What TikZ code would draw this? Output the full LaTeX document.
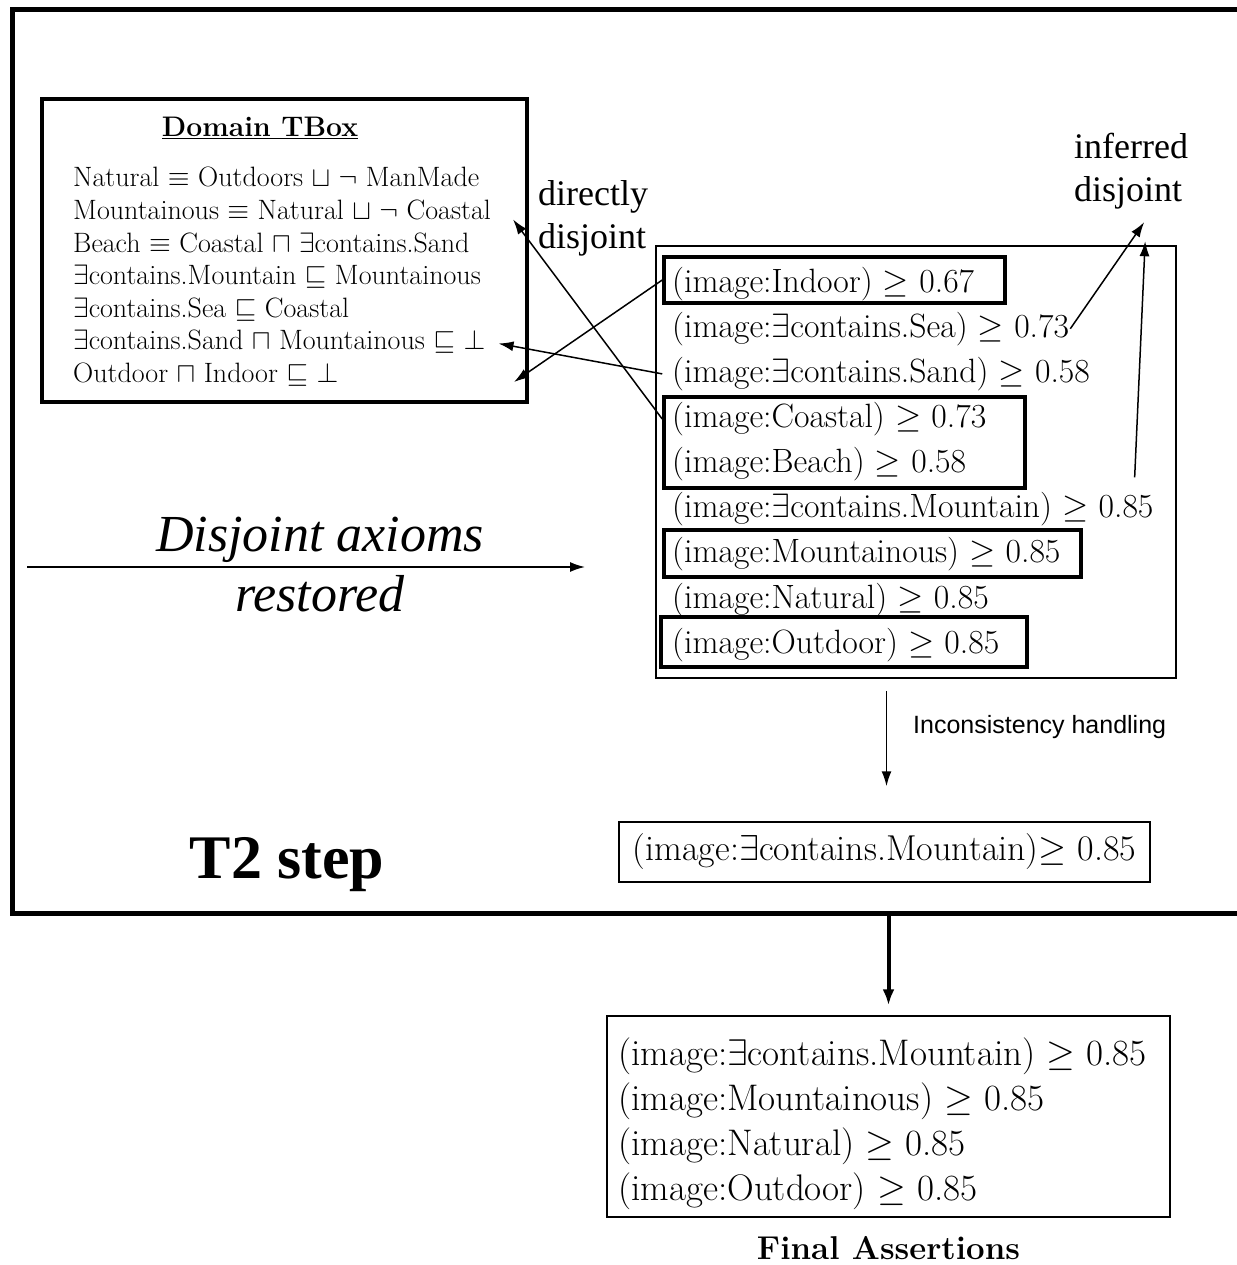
\RequirePackage{fix-cm}
\documentclass[tikz,border=0pt]{standalone}
\usepackage{fontspec}
\newfontfamily\timesfont{Liberation Serif}
\newfontfamily\guifont{Liberation Sans}
\usepackage{tikz}
\usetikzlibrary{calc}
\usetikzlibrary{arrows.meta,positioning,fit}

\begin{document}
\begin{tikzpicture}[x=1pt,y=-1pt,>={Latex[length=15pt,width=10pt]}]
        \tikzset{outer/.style={draw, line width=5pt, inner sep=0},
        tbox/.style={draw, line width=4pt, inner sep=0},
        abox/.style={draw, line width=1.5pt, inner sep=0},
        hl/.style={draw, line width=3.5pt, inner sep=0},
        axm/.style={anchor=base west, inner sep=1pt, font=\fontsize{28}{32}\selectfont},
        asr/.style={anchor=base west, inner sep=1pt, font=\fontsize{33.7}{40}\selectfont},
        fin/.style={anchor=base west, inner sep=1pt, font=\fontsize{37}{42}\selectfont},
        lbl/.style={align=left, inner sep=0, font=\timesfont\fontsize{36}{43}\selectfont},
        arr/.style={->, line width=1.5pt},
        }
        \useasboundingbox (0,0) rectangle (1236,1265);

        \node [outer, fit={(12,10)(1245,913)}] (frame) {};

%% domain tbox
        \node [tbox, fit={(42,99)(527,402)}] (tbox) {};
        \node [anchor=base, inner sep=0, font=\bfseries\fontsize{28.3}{30}\selectfont] (tbox_title) at (260,137) {\underline{Domain TBox}};
        \foreach \ax [count=\i] in {{Natural $\equiv$ Outdoors $\sqcup$ $\neg$ ManMade},
                {Mountainous $\equiv$ Natural $\sqcup$ $\neg$ Coastal},
                {Beach $\equiv$ Coastal $\sqcap$ $\exists$contains.Sand},
                {$\exists$contains.Mountain $\sqsubseteq$ Mountainous},
                {$\exists$contains.Sea $\sqsubseteq$ Coastal},
                {$\exists$contains.Sand $\sqcap$ Mountainous $\sqsubseteq$ $\bot$},
                {Outdoor $\sqcap$ Indoor $\sqsubseteq$ $\bot$}}
            \node [axm] (ax_\i) at (72,{187+32.5*(\i-1)}) {\ax};

%% assertions
        \node [abox, fit={(656,246)(1176,678)}] (abox) {};
        \foreach \as [count=\i] in {{(image:Indoor) $\geq$ 0.67},
                {(image:$\exists$contains.Sea) $\geq$ 0.73},
                {(image:$\exists$contains.Sand) $\geq$ 0.58},
                {(image:Coastal) $\geq$ 0.73},
                {(image:Beach) $\geq$ 0.58},
                {(image:$\exists$contains.Mountain) $\geq$ 0.85},
                {(image:Mountainous) $\geq$ 0.85},
                {(image:Natural) $\geq$ 0.85},
                {(image:Outdoor) $\geq$ 0.85}}
            \node [asr] (a_\i) at (671,{292+45.15*(\i-1)}) {\as};
        \node [hl, fit={(664,257)(1005,303)}] (hl_indoor) {};
        \node [hl, fit={(664,397)(1025,488)}] (hl_coastal) {};
        \node [hl, fit={(664,530)(1081,577)}] (hl_mount) {};
        \node [hl, fit={(661,617)(1027,667)}] (hl_outdoor) {};

        \node [lbl, anchor=west] (direct) at (538,218) {directly\\disjoint};
        \node [lbl, anchor=west] (infer) at (1074,171) {inferred\\disjoint};

        \node [align=center, inner sep=0, font=\timesfont\itshape\fontsize{52}{60}\selectfont] (restore) at (320,565) {Disjoint axioms\\restored};
        \node [anchor=base, inner sep=0, font=\timesfont\bfseries\fontsize{62}{70}\selectfont] (t2) at (287,878) {T2 step};

%% inconsistency handling
        \node [draw, line width=1.5pt, minimum height=60, minimum width=531, inner sep=0, font=\fontsize{36}{40}\selectfont] (consist) at (884.5,852) {(image:$\exists$contains.Mountain)$\geq$ 0.85};
        \node [anchor=base west, inner sep=0, font=\guifont\fontsize{25}{30}\selectfont] (handling) at (913,733) {Inconsistency handling};

        \node [abox, fit={(607,1016)(1170,1217)}] (final) {};
        \foreach \fa [count=\i] in {{(image:$\exists$contains.Mountain) $\geq$ 0.85},
                {(image:Mountainous) $\geq$ 0.85},
                {(image:Natural) $\geq$ 0.85},
                {(image:Outdoor) $\geq$ 0.85}}
            \node [fin] (f_\i) at (617,{1065+45*(\i-1)}) {\fa};
        \node [below=18pt of final, inner sep=0, font=\bfseries\fontsize{33}{36}\selectfont] (final_title) {Final Assertions};

%% ends of the free arrows
        \coordinate (tip_coastal) at ($(ax_2.base east)+(21,0)$);
        \coordinate (tip_sand) at ($(ax_6.base east)+(12,-6)$);
        \coordinate (tip_indoor) at ($(tbox.east |- ax_7.base)+(-15,0)$);
        \coordinate (tip_inf1) at ($(infer.south)+(13,13)$);
        \coordinate (tip_inf2) at ($(infer.south)+(14,32)$);
        \coordinate (inf_start) at ($(a_6.north east)+(-20,-14)$);
        \coordinate (rs_start) at (27,567);
        \coordinate (rs_end) at (585,567);

%% paths
        \draw [arr] (hl_indoor.west) -- (tip_indoor);
        \draw [arr] (hl_indoor.west |- a_3.west) -- (tip_sand);
        \draw [arr] (hl_coastal.west |- a_4.west) -- (tip_coastal);
        \draw [arr] (a_2.east) -- (tip_inf1);
        \draw [arr] (inf_start) -- (tip_inf2);
        \draw [arr] (rs_start) -- (rs_end);
        \draw [arr] ($(abox.south -| consist.north)+(2,12)$) -- ($(consist.north)+(2,-35)$);
        \draw [->, line width=4pt, >={Latex[length=16pt,width=12pt]}] (frame.south -| final.north) -- ($(final.north)+(0,-10)$);
\end{tikzpicture}
\end{document}
